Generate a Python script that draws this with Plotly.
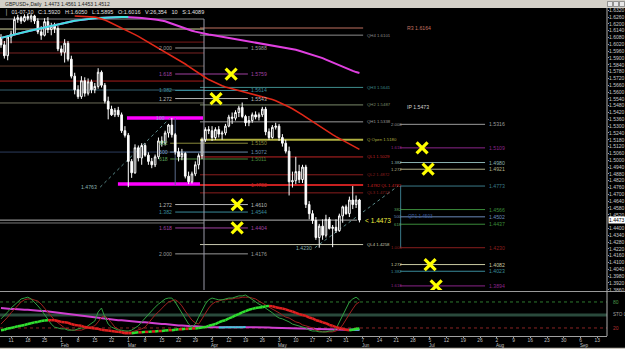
import pandas as pd
import plotly.graph_objects as go

# ---------------- data ----------------
dates = pd.bdate_range("2010-01-06", "2010-06-04")
bar = list(range(-3, len(dates) - 3))          # bar index, 0 = 11 Jan 2010

opens = [1.6080,1.6016,1.5920,1.6085,1.6110,1.6240,1.6255,1.6225,1.6265,1.6250,
         1.6270,1.6225,1.6130,1.6100,1.6220,1.6150,1.6180,1.6160,1.5980,1.5950,
         1.6030,1.5890,1.5740,1.5620,1.5560,1.5700,1.5590,1.5690,1.5620,1.5650,
         1.5775,1.5660,1.5520,1.5450,1.5400,1.5440,1.5400,1.5260,1.5220,1.4990,
         1.4890,1.5110,1.5020,1.5130,1.5045,1.4990,1.4960,1.5030,1.5170,1.5150,
         1.5240,1.5310,1.5225,1.5075,1.5030,1.5060,1.4860,1.4810,1.4880,1.4960,
         1.5040,1.5180,1.5270,1.5260,1.5200,1.5270,1.5230,1.5240,1.5300,1.5380,
         1.5370,1.5420,1.5465,1.5385,1.5330,1.5350,1.5400,1.5380,1.5400,1.5450,
         1.5250,1.5200,1.5290,1.5300,1.5200,1.5150,1.5080,1.4810,1.4820,1.4900,
         1.4830,1.4940,1.4610,1.4530,1.4470,1.4320,1.4420,1.4340,1.4480,1.4400,
         1.4410,1.4380,1.4510,1.4590,1.4530,1.4650,1.4610,1.4650]
highs = [1.6110,1.6050,1.6100,1.6140,1.6265,1.6280,1.6270,1.6285,1.6290,1.6285,
         1.6280,1.6250,1.6180,1.6250,1.6260,1.6210,1.6210,1.6180,1.6010,1.6065,
         1.6050,1.5920,1.5770,1.5660,1.5740,1.5730,1.5720,1.5710,1.5680,1.5810,
         1.5790,1.5680,1.5560,1.5480,1.5460,1.5470,1.5420,1.5300,1.5240,1.5010,
         1.5140,1.5130,1.5150,1.5150,1.5070,1.5020,1.5050,1.5200,1.5210,1.5260,
         1.5320,1.5372,1.5240,1.5110,1.5100,1.5070,1.4900,1.4900,1.4990,1.5060,
         1.5200,1.5290,1.5300,1.5300,1.5290,1.5300,1.5260,1.5320,1.5400,1.5420,
         1.5440,1.5480,1.5508,1.5400,1.5390,1.5420,1.5430,1.5420,1.5470,1.5470,
         1.5280,1.5310,1.5330,1.5320,1.5230,1.5180,1.5120,1.4900,1.5030,1.4960,
         1.4960,1.4960,1.4640,1.4560,1.4500,1.4440,1.4480,1.4520,1.4500,1.4430,
         1.4480,1.4530,1.4600,1.4610,1.4680,1.4773,1.4690,1.4660]
lows = [1.5990,1.5895,1.5880,1.6030,1.6100,1.6210,1.6200,1.6215,1.6230,1.6215,
        1.6200,1.6110,1.6060,1.6090,1.6120,1.6100,1.6120,1.5960,1.5920,1.5860,
        1.5870,1.5720,1.5580,1.5540,1.5540,1.5560,1.5570,1.5590,1.5590,1.5630,
        1.5640,1.5500,1.5360,1.5390,1.5380,1.5380,1.5240,1.5200,1.4763,1.4845,
        1.4880,1.4990,1.4960,1.5030,1.4960,1.4930,1.4940,1.5010,1.5120,1.5130,
        1.5200,1.5200,1.5050,1.4990,1.5000,1.4840,1.4790,1.4795,1.4860,1.4920,
        1.5010,1.5160,1.5230,1.5170,1.5180,1.5200,1.5180,1.5220,1.5290,1.5320,
        1.5350,1.5380,1.5370,1.5300,1.5300,1.5330,1.5360,1.5350,1.5380,1.5220,
        1.5180,1.5190,1.5270,1.5170,1.5120,1.5060,1.4690,1.4760,1.4790,1.4800,
        1.4800,1.4580,1.4480,1.4440,1.4300,1.4230,1.4300,1.4320,1.4390,1.4235,
        1.4360,1.4370,1.4450,1.4520,1.4500,1.4570,1.4580,1.4453]
closes = [1.6016,1.5920,1.6085,1.6110,1.6240,1.6255,1.6225,1.6265,1.6250,1.6270,
          1.6225,1.6130,1.6100,1.6220,1.6150,1.6180,1.6160,1.5980,1.5950,1.6030,
          1.5890,1.5740,1.5620,1.5560,1.5700,1.5590,1.5690,1.5620,1.5650,1.5775,
          1.5660,1.5520,1.5450,1.5400,1.5440,1.5400,1.5260,1.5220,1.4990,1.4890,
          1.5110,1.5020,1.5130,1.5045,1.4990,1.4960,1.5030,1.5170,1.5150,1.5240,
          1.5310,1.5225,1.5075,1.5030,1.5060,1.4860,1.4810,1.4880,1.4960,1.5040,
          1.5180,1.5270,1.5260,1.5200,1.5270,1.5230,1.5240,1.5300,1.5380,1.5370,
          1.5420,1.5460,1.5385,1.5330,1.5350,1.5400,1.5380,1.5400,1.5450,1.5250,
          1.5200,1.5290,1.5300,1.5200,1.5150,1.5080,1.4810,1.4820,1.4900,1.4830,
          1.4940,1.4610,1.4530,1.4470,1.4320,1.4420,1.4340,1.4480,1.4400,1.4410,
          1.4380,1.4510,1.4590,1.4530,1.4650,1.4610,1.4650,1.4473]

ma_long = [1.6077,1.6085,1.6091,1.6099,1.6106,1.6113,1.6120,1.6127,1.6135,1.6142,
           1.6149,1.6156,1.6163,1.6170,1.6177,1.6184,1.6191,1.6197,1.6204,1.6211,
           1.6217,1.6223,1.6227,1.6231,1.6236,1.6240,1.6244,1.6246,1.6249,1.6252,
           1.6254,1.6256,1.6258,1.6259,1.6260,1.6260,1.6260,1.6260,1.6260,1.6259,
           1.6257,1.6255,1.6252,1.6250,1.6246,1.6243,1.6238,1.6234,1.6229,1.6223,
           1.6212,1.6201,1.6190,1.6179,1.6168,1.6158,1.6149,1.6140,1.6132,1.6124,
           1.6117,1.6112,1.6106,1.6102,1.6097,1.6092,1.6087,1.6083,1.6077,1.6073,
           1.6068,1.6062,1.6058,1.6053,1.6048,1.6043,1.6038,1.6033,1.6028,1.6023,
           1.6018,1.6013,1.6009,1.6003,1.5999,1.5994,1.5988,1.5981,1.5973,1.5964,
           1.5955,1.5946,1.5937,1.5929,1.5920,1.5910,1.5899,1.5886,1.5873,1.5860,
           1.5847,1.5834,1.5821,1.5809,1.5797,1.5786,1.5776,1.5768]
ma_mid = [None] * 22 + [
           1.6269,1.6268,1.6267,1.6266,1.6264,1.6262,1.6260,1.6253,1.6245,1.6235,
           1.6222,1.6208,1.6194,1.6181,1.6168,1.6155,1.6140,1.6123,1.6106,1.6090,
           1.6073,1.6056,1.6040,1.6023,1.6005,1.5988,1.5970,1.5953,1.5935,1.5917,
           1.5900,1.5882,1.5864,1.5847,1.5827,1.5806,1.5785,1.5766,1.5747,1.5728,
           1.5710,1.5695,1.5680,1.5666,1.5655,1.5645,1.5637,1.5629,1.5621,1.5614,
           1.5607,1.5600,1.5592,1.5585,1.5578,1.5571,1.5563,1.5555,1.5545,1.5534,
           1.5523,1.5511,1.5497,1.5483,1.5468,1.5453,1.5437,1.5419,1.5400,1.5380,
           1.5360,1.5340,1.5320,1.5299,1.5279,1.5261,1.5242,1.5225,1.5208,1.5191,
           1.5175,1.5160,1.5144,1.5128,1.5112,1.5096]

# stochastic-type indicator pane
sto_k = [41,48,57,66,73,80,87,89,91,87, 80,71,62,50,41,29,22,20,18,18,
         15,15,15,18,20,20,25,29,36,57, 66,45,29,22,18,15,15,13,13,15,
         20,25,34,43,52,59,68,75,82,87, 89,89,80,68,55,41,29,22,29,45,
         59,75,85,89,87,85,85,87,89,89, 91,94,94,96,91,85,80,75,71,66,
         59,55,48,43,41,38,34,29,27,25, 22,20,15,13,13,11,11,11,13,13,
         18,34,48,66,80,87,91,85]
sto_d = [29,36,45,55,64,73,80,85,87,87, 85,82,75,66,57,48,38,32,25,20,
         18,15,15,15,15,18,20,22,25,34, 45,48,41,32,22,18,13,13,11,11,
         13,15,18,22,32,41,50,57,66,73, 80,82,85,80,71,59,48,38,32,29,
         41,55,66,75,80,82,85,85,87,87, 89,89,91,91,91,89,87,82,78,73,
         68,64,59,55,50,45,43,38,34,32, 27,25,22,20,15,13,11,11,11,11,
         13,18,27,38,52,64,75,80]
sto_ma = [15,16,19,20,22,24,25,27,29,31, 33,34,36,37,38,38,38,36,34,33,
          32,29,27,26,25,22,21,20,19,18, 16,15,14,13,12,11,10,8,8,8,
          9,10,10,11,11,12,12,13,13,14, 15,15,16,17,17,18,18,19,19,20,
          21,22,25,27,29,33,36,38,42,45, 49,52,56,59,62,64,66,67,68,70,
          71,70,68,66,65,63,60,58,55,52, 50,48,44,42,38,36,33,31,27,25,
          22,20,18,16,15,16,18,19]
sto_slow = [66,65,65,64,64,63,63,62,62,61, 61,60,59,59,58,57,57,56,55,54,
            53,52,51,50,49,48,47,46,45,44, 43,42,41,40,39,38,38,37,36,35,
            35,34,33,33,32,31,31,30,29,29, 28,27,27,26,26,25,25,24,24,23,
            23,22.0,21.7,21.5,21.3,21.2,21.3,21.4,21.5,21.6,
            21.7,21.8,21.9,22.0,22.0,21.9,21.9,21.8,21.6,21.4,
            21.1,20.8,20.5,20.2,19.9,19.6,19.3,19.0,18.7,18.4,
            18.1,17.8,17.5,17.3,17.1,16.9,16.7,16.5,16.3,16.1,
            16.0,15.9,15.8,15.8,15.8,15.9,16.0,16.1]

last_price = 1.4473

# horizontal levels
left_lv = [1.6243, 1.6155, 1.6040, 1.5944, 1.5829, 1.5697, 1.5618, 1.5504, 1.5072, 1.4448]
piv_name = ["R3", "QH4", "QH3", "QH2", "QH1", "Q Open", "QL1", "QL2", "1.4782 QL", "QL3", "QL4"]
piv_val = [1.6164, 1.6101, 1.5641, 1.5487, 1.5338, 1.5180, 1.5029, 1.4872, 1.4782, 1.4713, 1.4258]
ip_val = 1.5473
fibL_ratio = ["2.000", "1.618", "1.382", "1.272", "1.272", "1.382", "1.618", "2.000"]
fibL_val = [1.5988, 1.5759, 1.5614, 1.5543, 1.4610, 1.4544, 1.4404, 1.4176]
ret_ratio = ["382", "500", "618"]
ret_val = [1.5150, 1.5072, 1.5011]
swing_lo, swing_hi = 1.4763, 1.5372
box_hi, box_lo = 1.5372, 1.4791
fibR_ratio = ["2.000", "1.618", "1.382", "1.272", "", "382", "500", "618", "1.000", "1.272", "1.382", "1.618"]
fibR_val = [1.5316, 1.5109, 1.4980, 1.4921, 1.4773, 1.4566, 1.4502, 1.4437, 1.4230, 1.4082, 1.4023, 1.3894]
# yellow crosses: (bar, price)
x_bar = [65.7, 61.2, 67.5, 67.5, 122.7, 124.5, 125.1, 126.9]
x_val = [fibL_val[1], fibL_val[3], fibL_val[4], fibL_val[6], fibR_val[1], fibR_val[3], fibR_val[9], fibR_val[11]]

price_ticks = [round(1.3860 + 0.006 * k, 4) for k in range(42)]
mondays = pd.date_range("2010-01-11", "2010-09-13", freq="W-MON")

# ---------------- styling ----------------
FONT = "Liberation Sans"
LBL = 5.2
left_col = ["#8a8a8a", "#d6d6a0", "#7a1a1a", "#7a2424", "#5c3a2c", "#a81c1c", "#35606e", "#6a6a58", "#2c3c5c", "#7a7a7a"]
piv_col = ["#c07060", "#8c8c8c", "#3e8c8c", "#7a8a6a", "#9a9a9a", "#b0b040", "#c02424", "#8a1e1e", "#c82020", "#8a1e1e", "#c8c8b0"]
fibL_col = ["#9a9a9a", "#a040a0", "#3a8a9a", "#b8b8b8", "#b8b8b8", "#3a8a9a", "#a040a0", "#9a9a9a"]
ret_col = ["#8a8a3a", "#6a8aaa", "#4a8a3a"]
fibR_col = ["#9a9a9a", "#8a248a", "#8ab0b0", "#b0b08a", "#3a7a8a", "#3a8a3a", "#6a8aba", "#3a8a3a", "#8a1e1e", "#c8c8a0", "#3a8a9a", "#8a248a"]

fig = go.Figure()
shapes, ann = [], []

def hline(x0, x1, y, color, w=1, dash="solid", yref="y"):
    shapes.append(dict(type="line", xref="x", yref=yref, x0=x0, x1=x1, y0=y, y1=y,
                       line=dict(color=color, width=w, dash=dash), layer="below"))

def text(x, y, s, color, anchor="left", size=LBL, xref="x", yref="y", **kw):
    ann.append(dict(x=x, y=y, xref=xref, yref=yref, text=s, showarrow=False, xanchor=anchor,
                    yanchor="middle", font=dict(family=FONT, size=size, color=color), **kw))

# left block lines
for v, c in zip(left_lv, left_col):
    hline(-3.3, 57.6, v, c)
hline(-3.3, 103.3, last_price, "#b4b4b4")
# pivots
for n, v, c in zip(piv_name, piv_val, piv_col):
    hline(56.4, 105.1, v, c, w=2 if n in ("Q Open", "1.4782 QL") else 1)
    if n == "R3":
        text(117.6, v, f"{n} {v:.4f}", c)
    else:
        text(106.0, v, f"{n} {v:.4f}", c, size=4.3, borderpad=0)
text(117.6, ip_val, f"IP {ip_val:.4f}", "#d0d0d0")
# left fib expansion
for r, v, c in zip(fibL_ratio, fibL_val, fibL_col):
    hline(49, 70.7, v, c)
    text(48.6, v, r, c, anchor="right")
    text(71.1, v, f"{v:.4f}", c)
# retracement
for r, v, c in zip(ret_ratio, ret_val, ret_col):
    hline(47.5, 70.7, v, c)
    text(47.3, v, r, "#5aa05a" if r != "500" else "#7aa0d0", anchor="right")
    text(71.1, v, f"{v:.4f}", c)
text(71.1, 1.4782, "1.4782", "#c02020")
text(46.6, swing_hi, "100", "#7aa0d0", anchor="right")
# right fib
for r, v, c in zip(fibR_ratio, fibR_val, fibR_col):
    hline(116.1, 141.5, v, c)
    if r:
        text(117.0, v, r, c if r not in ("382", "618") else "#5aa05a", anchor="right", size=4.3, borderpad=0)
    text(142.2, v, f"{v:.4f}", c)
text(118.0, 1.4502, "QP1 1.4503", "#3a5a9a", size=4.6)
# magenta box lines
hline(34.6, 57.3, box_hi, "#ff00ff", w=3.5)
hline(31.9, 56.4, box_lo, "#ff00ff", w=3.5)
# vertical lines
shapes.append(dict(type="line", xref="x", yref="y", x0=57.6, x1=57.6, y0=left_lv[0], y1=1.3858,
                   line=dict(color="#9a9aa8", width=1), layer="below"))
shapes.append(dict(type="line", xref="x", yref="y", x0=49, x1=49, y0=swing_hi, y1=1.4782,
                   line=dict(color="#5a6a8a", width=1), layer="below"))
shapes.append(dict(type="line", xref="x", yref="y", x0=116.3, x1=116.3, y0=fibR_val[4], y1=fibR_val[8],
                   line=dict(color="#3a7a8a", width=1), layer="below"))
# diagonals
shapes.append(dict(type="line", xref="x", yref="y", x0=26.6, x1=47.5, y0=swing_lo, y1=swing_hi,
                   line=dict(color="#5a8a8a", width=1, dash="dot"), layer="below"))
shapes.append(dict(type="line", xref="x", yref="y", x0=90.7, x1=115.5, y0=fibR_val[8], y1=fibR_val[4],
                   line=dict(color="#5a8a8a", width=1, dash="dot"), layer="below"))
text(26.3, swing_lo, f"{swing_lo:.4f}", "#8ab0b0", anchor="right")
text(90.3, fibR_val[8], f"{fibR_val[8]:.4f}", "#8ab0b0", anchor="right")

# candles
fig.add_trace(go.Candlestick(x=bar, open=opens, high=highs, low=lows, close=closes,
                             increasing=dict(line=dict(color="#ffffff", width=1), fillcolor="#000000"),
                             decreasing=dict(line=dict(color="#ffffff", width=1), fillcolor="#ffffff"),
                             whiskerwidth=0, xaxis="x", yaxis="y", hoverinfo="skip"))
# moving averages
fig.add_trace(go.Scatter(x=bar, y=ma_long, mode="lines", line=dict(color="#e040e0", width=2), yaxis="y"))
cy = [v if bar[k] <= 35 else None for k, v in enumerate(ma_long)]
fig.add_trace(go.Scatter(x=bar, y=cy, mode="lines", line=dict(color="#40e0e0", width=2), yaxis="y"))
fig.add_trace(go.Scatter(x=bar, y=ma_mid, mode="lines", line=dict(color="#e02818", width=1.6), yaxis="y"))
# crosses
fig.add_trace(go.Scatter(x=x_bar, y=x_val, mode="markers", yaxis="y",
                         marker=dict(symbol="x-thin", size=11, line=dict(color="#ffff00", width=3.2))))
text(105.0, last_price, "< 1.4473", "#f0f040", size=6.6)

# indicator pane
def seg_split(vals, rising):
    xs, ys = [], []
    for k in range(1, len(vals)):
        up = vals[k] > vals[k - 1]
        if up == rising:
            xs += [bar[k - 1], bar[k], None]
            ys += [vals[k - 1], vals[k], None]
    return xs, ys

for lvl, col, dash, w in [(80, "#2e7a2e", "dot", 1), (50, "#2a4a3c", "solid", 3), (20, "#8a2424", "dot", 1)]:
    shapes.append(dict(type="line", xref="paper", yref="y2", x0=0, x1=1, y0=lvl, y1=lvl,
                       line=dict(color=col, width=w, dash=dash), layer="below"))
fig.add_trace(go.Scatter(x=bar, y=sto_slow, mode="lines", line=dict(color="#d040d0", width=2), yaxis="y2"))
sx, sy = seg_split(sto_slow, True)
fig.add_trace(go.Scatter(x=sx, y=sy, mode="lines", line=dict(color="#40c8d8", width=2), yaxis="y2"))
fig.add_trace(go.Scatter(x=bar, y=sto_d, mode="lines", line=dict(color="#a02020", width=1), yaxis="y2"))
fig.add_trace(go.Scatter(x=bar, y=sto_k, mode="lines", line=dict(color="#30a040", width=1), yaxis="y2"))
gx, gy = seg_split(sto_ma, True)
rx, ry = seg_split(sto_ma, False)
fig.add_trace(go.Scatter(x=rx, y=ry, mode="lines", line=dict(color="#e02020", width=2.5), yaxis="y2"))
fig.add_trace(go.Scatter(x=gx, y=gy, mode="lines", line=dict(color="#30e030", width=2.5), yaxis="y2"))
text(1.006, 80, "80", "#4a9a4a", xref="paper", yref="y2", size=5)
text(1.006, 50, "STO 0", "#a0a0a0", xref="paper", yref="y2", size=4.6)
text(1.006, 20, "20", "#b03030", xref="paper", yref="y2", size=5)

# month names under the day ticks
H = 328.0
for k, d in enumerate(mondays):
    if d.day <= 7:
        text(5 * k - 0.8, -9.5 / H, d.strftime("%b"), "#c0c0c0", xref="x", yref="paper", size=4.6)

# window chrome
shapes.append(dict(type="rect", xref="paper", yref="paper", x0=-0.01, x1=1.04, y0=1.0, y1=1 + 8 / H,
                   fillcolor="#d4d0c8", line=dict(width=0), layer="above"))
for k in range(3):
    shapes.append(dict(type="rect", xref="paper", yref="paper", x0=1.0 + (0.5 + 6 * k) / 607,
                       x1=1.0 + (5.5 + 6 * k) / 607, y0=1 + 1.5 / H, y1=1 + 6.5 / H,
                       fillcolor="#e8e8e8", line=dict(color="#606060", width=0.6), layer="above"))
shapes.append(dict(type="rect", xref="paper", yref="paper", x0=-0.01, x1=1.04, y0=-13 / H, y1=-11.8 / H,
                   fillcolor="#c8c4bc", line=dict(width=0), layer="above"))
shapes.append(dict(type="line", xref="paper", yref="paper", x0=0, x1=1.04, y0=44.5 / H, y1=44.5 / H,
                   line=dict(color="#9a9a9a", width=1.2)))
shapes.append(dict(type="line", xref="paper", yref="paper", x0=1.0, x1=1.0, y0=0, y1=1,
                   line=dict(color="#b0b0b0", width=1)))
text(0.005, 1 + 4 / H, "GBPUSD+,Daily  1.4473 1.4561 1.4453 1.4512", "#202020", xref="paper", yref="paper", size=5)
text(0.005, 1 - 4 / H, "\u2502  01-07-10   C:1.5920   H:1.6050   L:1.5895   O:1.6016   V:26,354   10   S:1.4089",
     "#e0e0e0", xref="paper", yref="paper", size=5.5)
ann.append(dict(x=1.0, y=last_price, xref="paper", yref="y", text="1.4473", showarrow=False, xanchor="left",
                yanchor="middle", bgcolor="#ffffff", borderpad=0, xshift=1,
                font=dict(family=FONT, size=5, color="#000000")))

shown_ticks = [t for t in price_ticks if abs(t - last_price) > 0.0025]
fig.update_layout(
    width=625, height=349, margin=dict(l=0, r=18, t=8, b=13),
    paper_bgcolor="#000000", plot_bgcolor="#000000", showlegend=False,
    shapes=shapes, annotations=ann,
    xaxis=dict(domain=[0, 1], range=[-3.3, 177.9], anchor="y2", showgrid=False, zeroline=False,
               rangeslider=dict(visible=False), tickmode="array",
               tickvals=[5 * k for k in range(len(mondays))], ticktext=[str(d.day) for d in mondays],
               tickfont=dict(family=FONT, size=4.8, color="#c0c0c0"), ticks="outside", ticklen=1,
               ticklabelstandoff=-2, tickcolor="#a0a0a0", showline=True, linecolor="#a0a0a0",
               automargin=False),
    yaxis=dict(domain=[46 / H, 1], range=[1.3858, 1.6340], side="right", anchor="x", showgrid=False,
               zeroline=False, tickmode="array", tickvals=shown_ticks, ticktext=[f"{t:.4f}" for t in shown_ticks],
               tickfont=dict(family=FONT, size=5, color="#c8c8c8"), ticks="outside", ticklen=1,
               ticklabelstandoff=-1, tickcolor="#a0a0a0", automargin=False),
    yaxis2=dict(domain=[0, 44 / H], range=[1.5, 103], side="right", anchor="x", showgrid=False,
                zeroline=False, showticklabels=False, automargin=False),
)
fig.write_html("out.html")
